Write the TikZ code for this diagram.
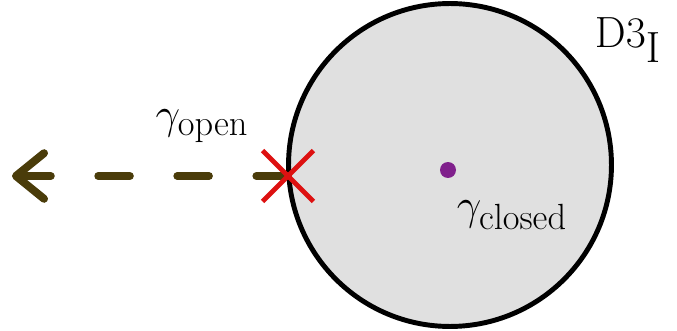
\documentclass[tikz,border=0pt]{standalone}
\usepackage{xcolor}
\usepackage{tikz}
\usetikzlibrary{arrows.meta, shapes.misc}
\definecolor{branegray}{RGB}{224,224,224}
\definecolor{pathbrown}{RGB}{74,60,10}
\definecolor{endred}{RGB}{221,17,17}
\definecolor{dotpurple}{RGB}{128,32,140}

\begin{document}
\begin{tikzpicture}[
  x=0.02cm, y=-0.02cm,
  every node/.style={font=\fontsize{29}{33}\selectfont},
  brane/.style={circle, draw=black, line width=2.8pt, fill=branegray,
                minimum size=6.46cm, inner sep=0pt},
  endmark/.style={cross out, draw=endred, line width=2.8pt,
                  minimum size=0.92cm, inner sep=0pt},
  dot/.style={circle, fill=dotpurple, minimum size=0.32cm, inner sep=0pt},
  arr/.style={-{Straight Barb[length=16pt, width=26pt, line cap=round, line join=round]},
              line width=4.5pt, color=pathbrown, line cap=round,
              dash pattern=on 18pt off 27pt}
]
\useasboundingbox (0,0) rectangle (677,331);

% Brane
\node[brane] (D) at (450,165) {};
\node[font=\fontsize{40}{44}\selectfont] (Dlab) at (628,40) {$\mathrm{D3}_{\mathrm{I}}$};

% Closed path
\node[dot] (P) at (448,170) {};
\node (gc) at (512,215) {$\gamma_{\mathrm{closed}}$};

% Open path
\coordinate (end) at (288,176);
\coordinate (tip) at (12,176);
\draw[arr] (end) -- (tip);
\node[endmark] (X) at (end) {};
\node (go) at (202,126) {$\gamma_{\mathrm{open}}$};

\end{tikzpicture}
\end{document}
